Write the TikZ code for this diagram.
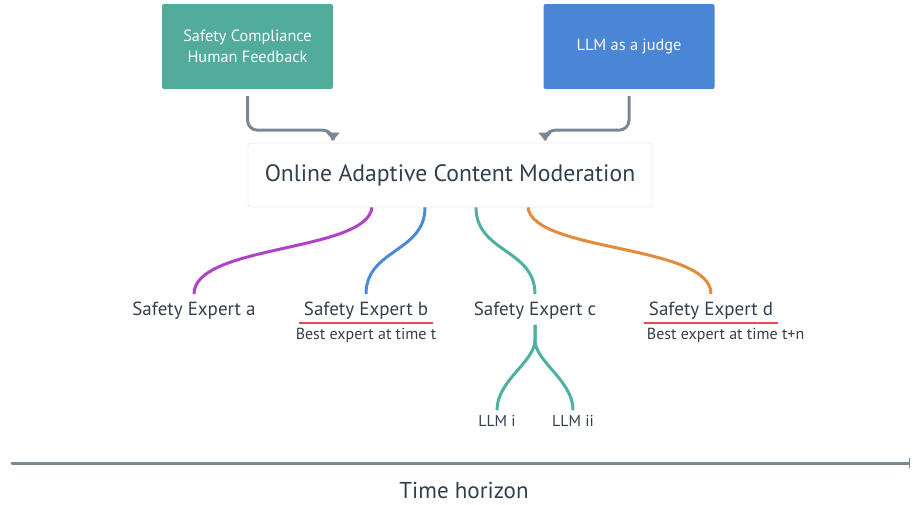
\documentclass[tikz,border=0pt]{standalone}
\usepackage{fontspec}
\setmainfont{PT Sans}
\usetikzlibrary{arrows.meta,positioning}
\definecolor{hfgreen}{HTML}{52AC9C}
\definecolor{judgeblue}{HTML}{4A86D4}
\definecolor{feedgray}{HTML}{7B8794}
\definecolor{ink}{HTML}{333F4D}
\definecolor{expa}{HTML}{B042C9}
\definecolor{expb}{HTML}{4A8AD6}
\definecolor{expc}{HTML}{4DB0A0}
\definecolor{expd}{HTML}{E38B3D}
\definecolor{bestred}{HTML}{E05050}
\begin{document}
\begin{tikzpicture}[x=1pt,y=-1pt,
  topbox/.style={fill=#1, rounded corners=2pt, minimum width=171pt, minimum height=85pt,
    text=white, align=center, font=\fontsize{16.3}{21}\selectfont},
  mainbox/.style={draw=black!7, line width=0.8pt, fill=white, rounded corners=3pt,
    minimum width=404pt, minimum height=64pt, text=ink, font=\fontsize{23.7}{28}\selectfont},
  feed/.style={draw=feedgray, line width=3pt, rounded corners=10pt, -{Triangle[width=13pt,length=8pt]}},
  branch/.style={draw=#1, line width=3pt},
  expert/.style={text=ink, inner sep=3pt, font=\fontsize{19}{22}\selectfont},
  note/.style={text=ink, inner sep=1pt, font=\fontsize{16}{18}\selectfont},
  llm/.style={text=ink, inner sep=2pt, font=\fontsize{15.8}{18}\selectfont},
  best/.style={draw=bestred, line width=1.2pt}]
\useasboundingbox (0,0) rectangle (913,504);

\node[topbox=hfgreen] (hf) at (247.5,46.5) {Safety Compliance\\Human Feedback};
\node[topbox=judgeblue] (judge) at (629,46.5) {LLM as a judge};
\node[mainbox] (mod) at (450,175) {Online Adaptive Content Moderation};

\draw[feed] ([yshift=-7pt]hf.south) -- ++(0,34) -| ([xshift=-117pt,yshift=2pt]mod.north);
\draw[feed] ([yshift=-7pt]judge.south) -- ++(0,34) -| ([xshift=95pt,yshift=2pt]mod.north);

\node[expert] (ea) at (194,311) {Safety Expert a};
\node[expert] (eb) at (366,311) {Safety Expert b};
\node[expert] (ec) at (535,311) {Safety Expert c};
\node[expert] (ed) at (711,311) {Safety Expert d};

\draw[branch=expa] ([xshift=-78pt]mod.south) .. controls +(-5,45) and +(0,-50) .. ([yshift=5pt]ea.north);
\draw[branch=expb] ([xshift=-25pt]mod.south) .. controls +(0,45) and +(0,-45) .. ([yshift=5pt]eb.north);
\draw[branch=expc] ([xshift=26pt]mod.south) .. controls +(0,45) and +(0,-45) .. ([yshift=5pt]ec.north);
\draw[branch=expd] ([xshift=78pt]mod.south) .. controls +(5,45) and +(0,-50) .. ([yshift=5pt]ed.north);

\draw[best] ([xshift=-2pt]eb.south west) -- ([xshift=2pt]eb.south east);
\draw[best] ([xshift=-2pt]ed.south west) -- ([xshift=2pt]ed.south east);
\node[note, below=4pt of eb] (nb) {Best expert at time t};
\node[note, anchor=north west] (nd) at ([yshift=-4pt]ed.south west) {Best expert at time t+n};

\node[llm] (li) at (497,421) {LLM i};
\node[llm] (lii) at (573,421) {LLM ii};
\draw[branch=expc] ([yshift=-2pt]ec.south) -- ++(0,15) .. controls +(0,22) and +(0,-30) .. ([yshift=3pt]li.north);
\draw[branch=expc] ([yshift=-2pt]ec.south) -- ++(0,15) .. controls +(0,22) and +(0,-30) .. ([yshift=3pt]lii.north);

\coordinate (t0) at (12,463);
\coordinate (t1) at (910,463);
\draw[draw=feedgray, line width=3pt, line cap=round, -{Bar[width=10pt,line width=1.5pt]}] (t0) -- (t1);
\node[text=ink, font=\fontsize{23}{26}\selectfont] (th) at (464,490) {Time horizon};
\end{tikzpicture}
\end{document}
